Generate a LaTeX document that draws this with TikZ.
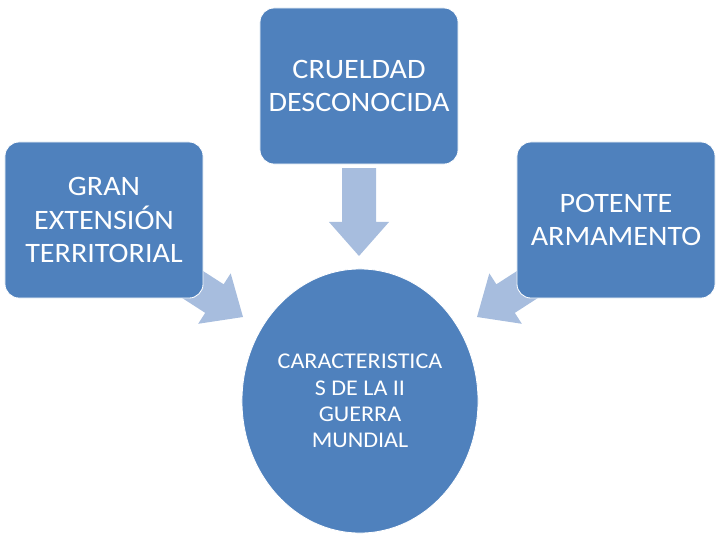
\documentclass[tikz,border=0pt]{standalone}
\usepackage{fontspec}
\setmainfont{Carlito}[FakeStretch=1.07]
\usetikzlibrary{shapes.geometric,calc}
\definecolor{boxblue}{RGB}{79,129,189}
\definecolor{arrowblue}{RGB}{167,189,222}
\tikzset{
  causa/.style={rectangle, rounded corners=0.35cm, fill=boxblue, draw=white,
    line width=0.6pt, minimum width=4.95cm, minimum height=3.9cm, inner sep=0pt,
    text=white, align=center, font=\fontsize{20}{23.5}\selectfont},
  efecto/.style={ellipse, fill=boxblue, draw=white, line width=0.6pt,
    minimum width=5.9cm, minimum height=6.6cm, inner sep=0pt,
    text=white, align=center, font=\fontsize{16}{18.8}\selectfont},
  flecha/.style={fill=arrowblue}
}
% block arrow from #1 to the tip #2
\newcommand{\blockarrow}[2]{%
  \coordinate (hb) at ($(#2)!0.85cm!(#1)$);
  \fill[flecha] ($(#1)!0.425cm!90:(#2)$) -- ($(hb)!0.425cm!90:(#2)$)
    -- ($(hb)!0.75cm!90:(#2)$) -- (#2) -- ($(hb)!0.75cm!-90:(#2)$)
    -- ($(hb)!0.425cm!-90:(#2)$) -- ($(#1)!0.425cm!-90:(#2)$) -- cycle;}
\begin{document}
\begin{tikzpicture}[x=0.025cm, y=-0.025cm]
    \useasboundingbox (0,0) rectangle (720,540);
    % arrows first, the boxes cover their tails
    \coordinate (a1) at (359,168);  \coordinate (t1) at (359,256);
    \coordinate (a2) at (167,268);  \coordinate (t2) at (243,317);
    \coordinate (a3) at (553,268);  \coordinate (t3) at (477,317);
    \blockarrow{a1}{t1}
    \blockarrow{a2}{t2}
    \blockarrow{a3}{t3}
    \node[causa] (cru) at (359,86) {CRUELDAD\\DESCONOCIDA};
    \node[causa] (gran) at (104,220) {GRAN\\EXTENSIÓN\\TERRITORIAL};
    \node[causa] (pot) at (616,220) {POTENTE\\ARMAMENTO};
    \node[efecto] (car) at (360,401) {CARACTERISTICA\\S DE LA II\\GUERRA\\MUNDIAL};
\end{tikzpicture}
\end{document}
